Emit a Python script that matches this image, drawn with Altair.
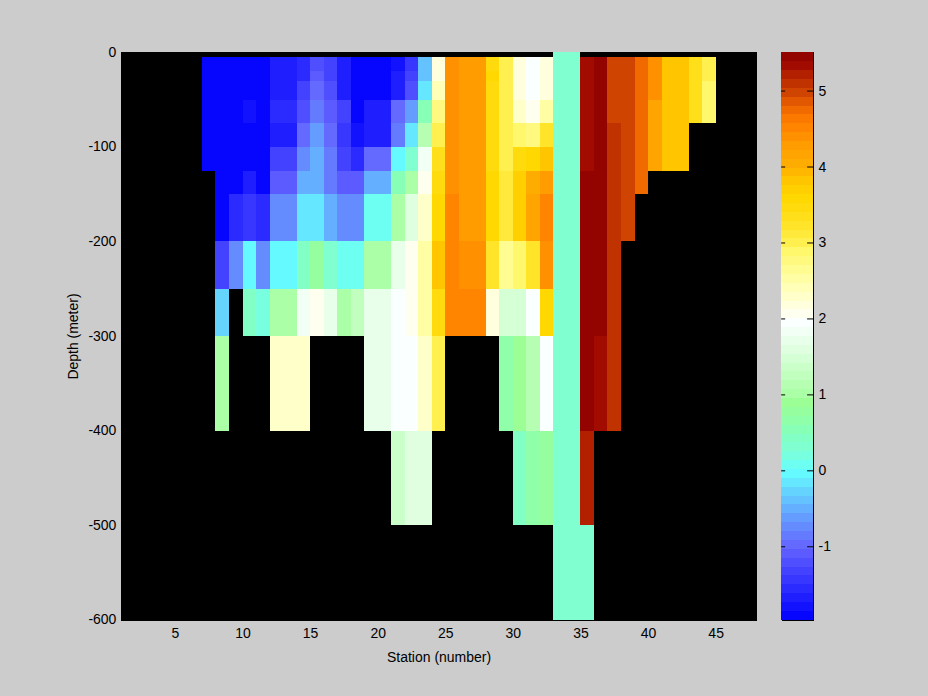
import altair as alt
import numpy as np
import pandas as pd

stations = list(range(7, 45))  # each cell spans station .. station+1
depth_edges = [0, 5, 20, 30, 50, 75, 100, 125, 150, 200, 250, 300, 400, 500, 600]
_ = None
AQ = 0.28

r0_5 = [_] * 26 + [AQ, AQ] + [_] * 10
r5_20 = [-1.92, -1.92, -1.85, -1.85, -1.85, -1.7, -1.7, -1.5, -1.15, -1.35, -1.65, -1.85, -1.85, -1.85,
         -1.8, -1.45, -0.4, 2.2, 4.4, 4.3, 4.3, 3.5, 2.95, 2.2, 1.9, 2.15,
         AQ, AQ, 5.3, 5.45, 5.0, 5.0, 4.8, 4.35, 3.85, 3.85, 3.4, 3.05]
r20_30 = [-1.92, -1.85, -1.85, -1.85, -1.85, -1.7, -1.7, -1.5, -1.05, -1.35, -1.65, -1.85, -1.85, -1.85,
          -1.65, -1.3, -0.4, 2.2, 4.4, 4.3, 4.3, 3.6, 2.95, 2.2, 1.9, 2.15,
          AQ, AQ, 5.3, 5.45, 5.0, 5.0, 4.8, 4.35, 3.85, 3.85, 3.4, 3.05]
r30_50 = [-1.85, -1.85, -1.85, -1.85, -1.85, -1.7, -1.7, -1.35, -1.0, -1.15, -1.65, -1.85, -1.85, -1.85,
          -1.65, -1.25, -0.1, 2.4, 4.4, 4.3, 4.3, 3.5, 2.95, 2.2, 1.9, 2.15,
          AQ, AQ, 5.3, 5.45, 5.0, 5.0, 4.8, 4.35, 3.85, 3.85, 3.4, 2.9]
r50_75 = [-1.85, -1.85, -1.85, -1.8, -1.85, -1.6, -1.6, -1.2, -0.8, -1.05, -1.35, -1.85, -1.65, -1.65,
          -1.0, -0.6, 0.55, 2.75, 4.4, 4.3, 4.3, 3.5, 2.95, 2.3, 2.1, 2.5,
          AQ, AQ, 5.3, 5.45, 5.0, 5.0, 4.8, 4.2, 3.85, 3.85, 3.4, 2.9]
r75_100 = [-1.85, -1.92, -1.92, -1.85, -1.92, -1.7, -1.7, -0.95, -0.65, -1.0, -1.4, -1.8, -1.65, -1.65,
           -0.85, -0.15, 1.1, 3.0, 4.4, 4.3, 4.3, 3.5, 2.95, 2.9, 2.75, 3.2,
           AQ, AQ, 5.3, 5.45, 5.1, 5.0, 4.8, 4.2, 3.85, 3.85, _, _]
r100_125 = [-1.85, -1.92, -1.92, -1.85, -1.92, -1.35, -1.35, -0.75, -0.55, -0.8, -1.3, -1.6, -1.0, -1.0,
            0.0, 0.35, 1.8, 3.3, 4.4, 4.3, 4.3, 3.5, 3.0, 3.45, 3.6, 3.8,
            AQ, AQ, 5.3, 5.45, 5.1, 5.0, 4.8, 4.2, 3.85, 3.85, _, _]
r125_150 = [_, -1.92, -1.85, -1.65, -1.85, -1.1, -1.1, -0.5, -0.5, -0.8, -1.1, -1.1, -0.45, -0.45,
            0.5, 1.0, 2.05, 3.5, 4.45, 4.3, 4.3, 3.6, 3.15, 3.7, 4.1, 4.3,
            AQ, AQ, 5.45, 5.45, 5.1, 5.0, 4.8, _, _, _, _, _]
r150_200 = [_, -1.85, -1.6, -1.4, -1.6, -0.7, -0.7, -0.2, -0.2, -0.45, -0.7, -0.7, 0.1, 0.1,
            1.0, 1.6, 2.3, 3.55, 4.55, 4.3, 4.3, 3.6, 3.15, 3.7, 4.15, 4.5,
            AQ, AQ, 5.45, 5.45, 5.1, 5.0, _, _, _, _, _, _]
r200_250 = [_, -1.3, -0.7, 0.0, -0.7, -0.05, -0.05, 0.4, 0.75, 0.3, 0.12, 0.12, 1.0, 1.0,
            1.7, 2.05, 2.55, 3.8, 4.55, 4.45, 4.45, 3.2, 2.7, 2.85, 3.2, 4.45,
            AQ, AQ, 5.45, 5.45, 5.1, _, _, _, _, _, _, _]
r250_300 = [_, -0.3, _, 0.45, 0.15, 1.0, 1.0, 1.85, 2.05, 1.7, 1.0, 1.3, 1.7, 1.7,
            1.9, 2.05, 2.5, 3.45, 4.55, 4.55, 4.55, 2.2, 1.45, 1.45, 2.0, 3.6,
            AQ, AQ, 5.45, 5.45, 5.1, _, _, _, _, _, _, _]
r300_400 = [_, 1.0, _, _, _, 2.25, 2.25, 2.25, _, _, _, _, 1.7, 1.7,
            1.9, 1.95, 2.3, 2.95, _, _, _, _, 0.7, 0.85, 1.15, 2.0,
            AQ, AQ, 5.45, 5.3, 5.1, _, _, _, _, _, _, _]
r400_500 = [_] * 14 + [1.4, 1.6, 1.6, _, _, _, _, _, _, 0.45, 0.65, 0.8,
                       AQ, AQ, 5.2, _, _, _, _, _, _, _, _, _]
r500_600 = [_] * 26 + [AQ, AQ, AQ] + [_] * 9
rows = [r0_5, r5_20, r20_30, r30_50, r50_75, r75_100, r100_125, r125_150,
        r150_200, r200_250, r250_300, r300_400, r400_500, r500_600]

# colormap
cmap_pos = [-1.96, -1.0, -0.5, 0.0, 0.28, 0.45, 0.7, 0.9, 1.0, 1.5, 1.95, 2.1, 2.5, 2.9, 3.0, 3.3, 3.6,
            3.8, 4.0, 4.3, 4.6, 4.8, 5.0, 5.2, 5.35, 5.51]
cmap_rgb = [(0, 0, 255), (100, 100, 255), (100, 175, 255), (100, 255, 255), (127, 255, 212),
            (130, 255, 195), (145, 255, 165), (155, 255, 150), (170, 255, 165), (215, 255, 215),
            (250, 255, 255), (255, 255, 235), (255, 255, 170), (255, 248, 105), (255, 240, 80),
            (255, 225, 30), (255, 215, 0), (255, 200, 0), (255, 175, 0), (255, 155, 0),
            (255, 125, 0), (235, 100, 0), (205, 65, 0), (180, 35, 0), (160, 8, 0), (140, 0, 0)]
cmin, cmax = -1.96, 5.51
n_levels = 64
edges = np.linspace(cmin, cmax, n_levels + 1)
centers = (edges[:-1] + edges[1:]) / 2
rgb = np.array(cmap_rgb, dtype=float)
palette = ["#%02x%02x%02x" % tuple(int(round(np.interp(c, cmap_pos, rgb[:, k]))) for k in range(3))
           for c in centers]
color_scale = alt.Scale(type="quantize", domain=[cmin, cmax], range=palette)

cells = []
for j, row in enumerate(rows):
    for s, v in zip(stations, row):
        if v is not None:
            cells.append(dict(x0=s, x1=s + 1, y0=-depth_edges[j], y1=-depth_edges[j + 1], v=v))
cells = pd.DataFrame(cells)

bar = pd.DataFrame(dict(y0=edges[:-1], y1=edges[1:], v=centers))
bar_ticks = pd.DataFrame(dict(t=[-1, 0, 1, 2, 3, 4, 5]))

main = alt.Chart(cells).mark_rect().encode(
    x=alt.X("x0:Q", scale=alt.Scale(domain=[1, 48], nice=False),
            axis=alt.Axis(values=[5, 10, 15, 20, 25, 30, 35, 40, 45], title="Station (number)",
                          grid=False, tickSize=0, domain=False, labelPadding=7, titlePadding=10,
                          labelFlush=False)),
    x2="x1:Q",
    y=alt.Y("y0:Q", scale=alt.Scale(domain=[-600, 0], nice=False),
            axis=alt.Axis(values=[-600, -500, -400, -300, -200, -100, 0], title="Depth (meter)",
                          grid=False, tickSize=0, domain=False, labelPadding=5, titlePadding=7,
                          labelExpr="'' + datum.value", labelFlush=False)),
    y2="y1:Q",
    fill=alt.Fill("v:Q", scale=color_scale, legend=None),
).properties(width=636, height=568)

bar_axis = alt.Axis(orient="right", values=[-1, 0, 1, 2, 3, 4, 5], title=None, grid=False,
                    tickSize=0, domain=False, labelPadding=5,
                    labelExpr="'' + datum.value", labelFlush=False)
bar_scale = alt.Scale(domain=[cmin, cmax], nice=False)
cbar_rect = alt.Chart(bar).mark_rect().encode(
    x=alt.value(0), x2=alt.value(32),
    y=alt.Y("y0:Q", scale=bar_scale, axis=bar_axis), y2="y1:Q",
    fill=alt.Fill("v:Q", scale=color_scale, legend=None),
)
tick_y = alt.Y("t:Q", scale=bar_scale, axis=bar_axis)
left_t = alt.Chart(bar_ticks).mark_rule(color="black", strokeWidth=1).encode(
    x=alt.value(0), x2=alt.value(4), y=tick_y)
right_t = alt.Chart(bar_ticks).mark_rule(color="black", strokeWidth=1).encode(
    x=alt.value(26), x2=alt.value(32), y=tick_y)
cbar = alt.layer(cbar_rect, left_t, right_t).properties(width=32, height=568)

chart = alt.hconcat(main, cbar, spacing=23).properties(
    background="#cccccc",
    padding={"left": 58, "top": 36, "right": 89, "bottom": 22},
).configure(font="Liberation Sans").configure_view(
    fill="black", stroke="black", strokeWidth=1
).configure_axis(
    labelFontSize=14, titleFontSize=14, labelColor="black", titleColor="black", titleFontWeight="normal"
)

chart.save("out.html", embed_options={"renderer": "svg", "actions": False,
                                      "defaultStyle": "html,body{background:#cccccc} svg path{shape-rendering:crispEdges}"})
